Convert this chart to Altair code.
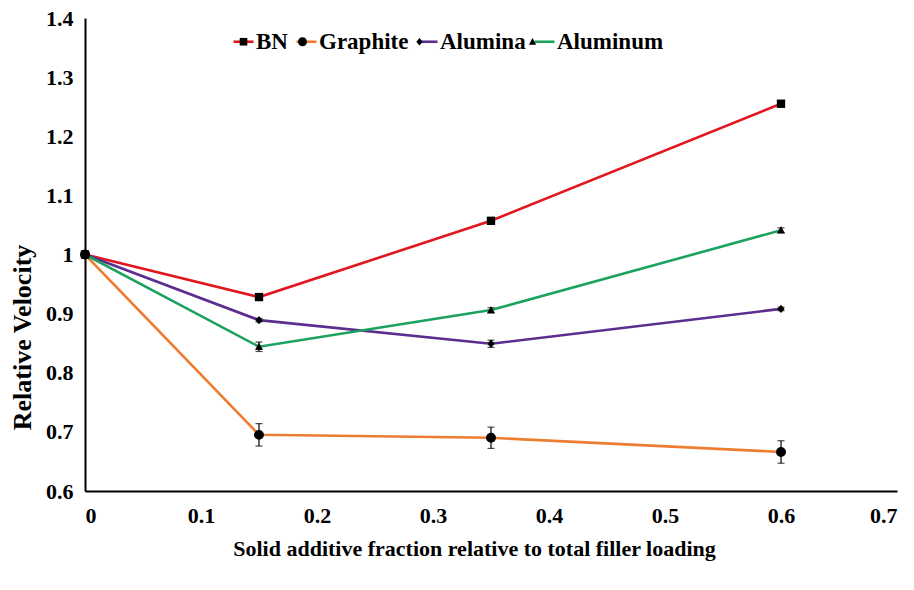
import altair as alt
import pandas as pd

series = ["BN", "Graphite", "Alumina", "Aluminum"]
colors = ["#E3151E", "#ED7D31", "#5B2D8E", "#1AA25E"]
fractions = [0, 0.15, 0.35, 0.6]
bn = [1.0, 0.928, 1.057, 1.255]
graphite = [1.0, 0.695, 0.690, 0.666]
alumina = [1.0, 0.889, 0.849, 0.908]
aluminum = [1.0, 0.844, 0.906, 1.041]
err_bn = [0.0, 0.004, 0.004, 0.004]
err_graphite = [0.0, 0.019, 0.018, 0.019]
err_alumina = [0.0, 0.003, 0.006, 0.003]
err_aluminum = [0.0, 0.008, 0.004, 0.004]

# custom marker paths (unit box)
shapes = [
    "M-0.38,-0.38H0.38V0.38H-0.38Z",
    "M0.45,0A0.45,0.45,0,1,1,-0.45,0A0.45,0.45,0,1,1,0.45,0Z",
    "M0,-0.38L0.32,0L0,0.38L-0.32,0Z",
    "M0,-0.38L0.36,0.3H-0.36Z",
]

rows = []
for name, vals, errs in [("BN", bn, err_bn), ("Graphite", graphite, err_graphite),
                         ("Alumina", alumina, err_alumina), ("Aluminum", aluminum, err_aluminum)]:
    for x, v, e in zip(fractions, vals, errs):
        rows.append({"series": name, "series_m": name, "x": x, "y": v,
                     "lo": v - e, "hi": v + e})
df = pd.DataFrame(rows)

FONT = "Liberation Serif"
YTITLE = "Relative Velocity"
LEG = dict(orient="none", legendX=147, legendY=12, direction="horizontal",
           title=None, symbolSize=400, symbolStrokeWidth=2.6,
           labelFont=FONT, labelFontSize=23, labelFontWeight="bold",
           labelOffset=1, columnPadding=3, padding=0)

xs = alt.X("x:Q", scale=alt.Scale(domain=[0, 0.7], nice=False),
           axis=alt.Axis(values=[0, 0.1, 0.2, 0.3, 0.4, 0.5, 0.6, 0.7],
                         labelExpr="'' + datum.value",
                         title="Solid additive fraction relative to total filler loading",
                         titlePadding=12, labelPadding=14, titleX=389,
                         titleFontSize=22))
ys = alt.Y("y:Q", scale=alt.Scale(domain=[0.6, 1.4], nice=False),
           axis=alt.Axis(values=[0.6, 0.7, 0.8, 0.9, 1.0, 1.1, 1.2, 1.3, 1.4],
                         labelExpr="'' + datum.value",
                         title=YTITLE, titlePadding=10, labelPadding=12,
                         titleY=319, titleFontSize=26))

base = alt.Chart(df)

lines = base.mark_line(strokeWidth=2.6).encode(
    x=xs, y=ys,
    color=alt.Color("series:N", scale=alt.Scale(domain=series, range=colors),
                    sort=series,
                    legend=alt.Legend(symbolType="stroke", labelColor="black", **LEG)),
    order="x:Q",
    detail="series:N",
)

errs = base.transform_filter("datum.hi - datum.lo > 0").mark_errorbar(
    ticks=alt.MarkConfig(size=7), color="black", thickness=1.2).encode(
    x="x:Q", y=alt.Y("lo:Q", title=YTITLE), y2="hi:Q")

points = base.mark_point(filled=True, opacity=1, size=484, color="black").encode(
    x="x:Q", y=alt.Y("y:Q", title=YTITLE),
    shape=alt.Shape("series_m:N", scale=alt.Scale(range=shapes),
                    sort=series,
                    legend=alt.Legend(symbolFillColor="black",
                                      symbolStrokeColor="transparent",
                                      labelOpacity=0, **LEG)),
)

chart = alt.layer(lines, errs, points).properties(
    width=812, height=473,
    autosize=alt.AutoSizeParams(type="none"),
    padding={"left": 85, "top": 18, "right": 17, "bottom": 99},
    background="white",
).configure_view(stroke=None).configure_axis(
    grid=False, ticks=False, domainColor="black", domainWidth=2,
    labelFont=FONT, labelFontSize=22, labelFontWeight="bold", labelColor="black",
    titleFont=FONT, titleFontWeight="bold", titleColor="black",
)

chart.save("out.html", embed_options={"renderer": "svg", "actions": False})
